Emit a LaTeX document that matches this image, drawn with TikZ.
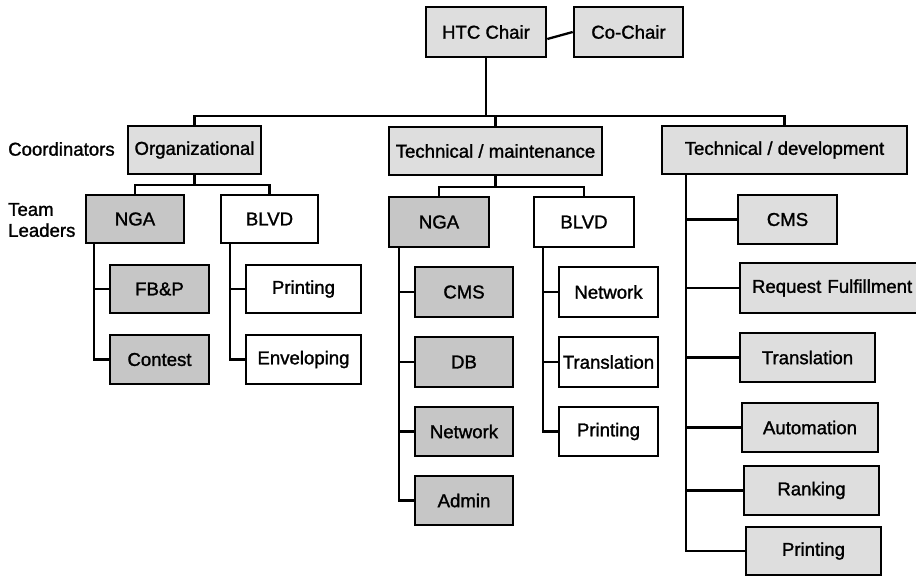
\documentclass[tikz,border=0pt]{standalone}
\usepackage{fontspec}
\setmainfont{Liberation Sans}[FakeBold=1.4]
\definecolor{lightg}{HTML}{DEDEDE}
\definecolor{darkg}{HTML}{C6C6C6}
\begin{document}
\begin{tikzpicture}[x=1pt,y=-1pt,
  box/.style={draw=black,line width=2.6pt,rectangle,inner sep=0pt,
    font=\fontsize{18.6}{21}\selectfont,text=black},
  lbox/.style={box,fill=lightg},
  dbox/.style={box,fill=darkg},
  wbox/.style={box,fill=white},
  conn/.style={line width=2.3pt,black},
  lab/.style={font=\fontsize{18.6}{21}\selectfont,anchor=west,align=left,inner sep=0pt}]
\useasboundingbox (0,0) rectangle (916,576);
\clip (0,0) rectangle (916,576);
% top
\node[lbox,minimum width=120pt,minimum height=50pt] (htc) at (486,32) {HTC Chair};
\node[lbox,minimum width=109pt,minimum height=50pt] (co) at (628.5,32) {Co-Chair};
% coordinators
\node[lbox,minimum width=133pt,minimum height=48pt] (org) at (194.5,150) {Organizational};
\node[lbox,minimum width=213pt,minimum height=48pt] (tm) at (495.5,151) {Technical / maintenance};
\node[lbox,minimum width=245pt,minimum height=48pt] (td) at (784.5,150) {Technical / development};
% labels
\node[lab] (coord) at (8,149) {Coordinators};
\node[lab] (team) at (8,220) {Team\\Leaders};
% left team
\node[dbox,minimum width=98pt,minimum height=48pt] (ngaL) at (135,219) {NGA};
\node[wbox,minimum width=97pt,minimum height=48pt] (blvdL) at (269.5,219) {BLVD};
\node[dbox,minimum width=99pt,minimum height=48pt] (fbp) at (159.5,289) {FB\&P};
\node[dbox,minimum width=99pt,minimum height=49pt] (contest) at (159.5,359.5) {Contest};
\node[wbox,minimum width=115pt,minimum height=48pt] (printL) at (303.5,289) {Printing};
\node[wbox,minimum width=115pt,minimum height=49pt] (envel) at (303.5,359.5) {Enveloping};
% middle team
\node[dbox,minimum width=100pt,minimum height=50pt] (ngaM) at (439,222) {NGA};
\node[wbox,minimum width=100pt,minimum height=50pt] (blvdM) at (584,222) {BLVD};
\node[dbox,minimum width=98pt,minimum height=50pt] (cmsM) at (464,292) {CMS};
\node[dbox,minimum width=98pt,minimum height=50pt] (dbM) at (464,362) {DB};
\node[dbox,minimum width=98pt,minimum height=49pt] (netM) at (464,431.5) {Network};
\node[dbox,minimum width=98pt,minimum height=49pt] (admin) at (464,500.5) {Admin};
\node[wbox,minimum width=99pt,minimum height=50pt] (netB) at (608.5,292) {Network};
\node[wbox,minimum width=99pt,minimum height=50pt] (transB) at (608.5,362) {Translation};
\node[wbox,minimum width=99pt,minimum height=49pt] (printB) at (608.5,431.5) {Printing};
% right
\node[lbox,minimum width=99pt,minimum height=49pt] (cmsR) at (787.5,219.5) {CMS};
\node[lbox,minimum width=180pt,minimum height=50pt,text width=174pt,align=left] (req) at (830,288) {\hspace*{9pt}Request Fulfillment};
\node[lbox,minimum width=135pt,minimum height=49pt] (transR) at (807.5,357.5) {Translation};
\node[lbox,minimum width=136pt,minimum height=49pt] (auto) at (810,427.5) {Automation};
\node[lbox,minimum width=135pt,minimum height=49pt] (rank) at (811.5,490.5) {Ranking};
\node[lbox,minimum width=135pt,minimum height=48pt] (printR) at (813.5,551) {Printing};
% connectors
\coordinate (bus) at (0,116);
\coordinate (busL) at (0,185);
\coordinate (busM) at (0,187);
\draw[conn] ([yshift=-7pt]htc.east) -- (co.west);
\draw[conn] (htc.south) -- (htc.south |- bus);
\draw[conn] (org.north) -- (org.north |- bus) -- (td.north |- bus) -- (td.north);
\draw[conn] (tm.north) -- (tm.north |- bus);
\draw[conn] (org.south) -- (org.south |- busL);
\draw[conn] (ngaL.north) -- (ngaL.north |- busL) -- (blvdL.north |- busL) -- (blvdL.north);
\draw[conn] (tm.south) -- (tm.south |- busM);
\draw[conn] (ngaM.north) -- (ngaM.north |- busM) -- (blvdM.north |- busM) -- (blvdM.north);
\coordinate (vL1) at ([xshift=9pt]ngaL.south west);
\coordinate (vL2) at ([xshift=10pt]blvdL.south west);
\coordinate (vM1) at ([xshift=11pt]ngaM.south west);
\coordinate (vM2) at ([xshift=10pt]blvdM.south west);
\coordinate (vR) at ([xshift=25pt]td.south west);
\foreach \c in {fbp,contest} \draw[conn] (vL1) |- (\c.west);
\foreach \c in {printL,envel} \draw[conn] (vL2) |- (\c.west);
\foreach \c in {cmsM,dbM,netM,admin} \draw[conn] (vM1) |- (\c.west);
\foreach \c in {netB,transB,printB} \draw[conn] (vM2) |- (\c.west);
\foreach \c in {cmsR,req,transR,auto,rank,printR} \draw[conn] (vR) |- (\c.west);
\end{tikzpicture}
\end{document}
